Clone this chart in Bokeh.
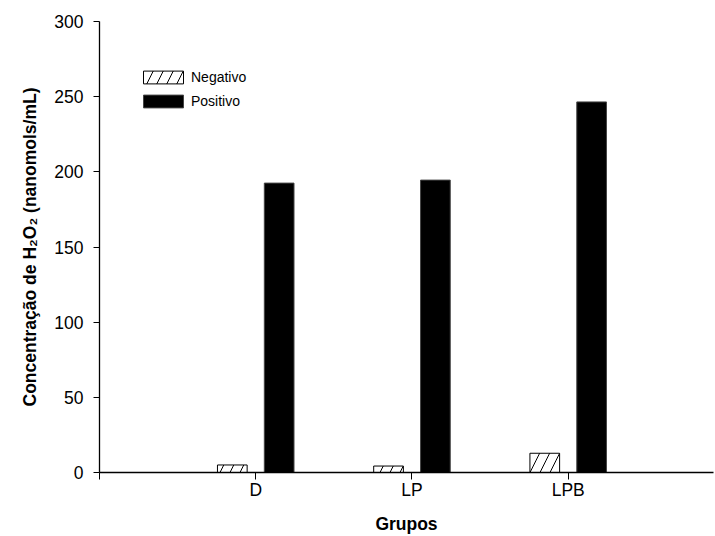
from bokeh.plotting import figure
from bokeh.models import Range1d, FixedTicker, Legend, LegendItem
from bokeh.embed import file_html
from bokeh.resources import INLINE

groups = ["D", "LP", "LPB"]
negativo = [5.0, 4.3, 12.8]
positivo = [192.5, 194.5, 246.5]
y_ticks = [0, 50, 100, 150, 200, 250, 300]
x_ticks = [0, 1, 2, 3]
x_tick_labels = ["", "D", "LP", "LPB"]

FONT = "Liberation Sans"
bar_w = 0.19
off = 0.15
pos_idx = [i + 1 for i in range(len(groups))]
x_neg = [x - off for x in pos_idx]
x_pos = [x + off for x in pos_idx]

p = figure(width=715, height=536, output_backend="svg", toolbar_location=None,
           x_range=Range1d(0, 3.93), y_range=Range1d(0, 300),
           min_border_left=99, min_border_right=2, min_border_top=21, min_border_bottom=63)
p.outline_line_color = None
p.grid.visible = False
p.background_fill_color = "white"

neg = p.vbar(x=x_neg, top=negativo, width=bar_w, fill_color="white", line_color="black",
             line_width=1, hatch_pattern="/", hatch_color="black", hatch_weight=1, hatch_scale=20)
pos = p.vbar(x=x_pos, top=positivo, width=bar_w, fill_color="black", line_color="#444444",
             line_width=1)

legend = Legend(items=[LegendItem(label="Negativo", renderers=[neg]),
                       LegendItem(label="Positivo", renderers=[pos])],
                location=(39, 363), glyph_width=50, glyph_height=16,
                label_text_font=FONT, label_text_font_size="14px", label_text_color="black",
                padding=0, margin=0, spacing=8, label_standoff=3,
                border_line_alpha=0, background_fill_alpha=0)
p.add_layout(legend)

for ax in (p.xaxis[0], p.yaxis[0]):
    ax.axis_line_color = "black"
    ax.axis_line_width = 1.3
    ax.major_tick_line_color = "black"
    ax.major_tick_in = 0
    ax.minor_tick_line_color = None
    ax.major_label_text_font = FONT
    ax.major_label_text_font_size = "17.5px"
    ax.major_label_text_color = "black"
    ax.axis_label_text_font = FONT
    ax.axis_label_text_font_size = "17.5px"
    ax.axis_label_text_font_style = "bold"
    ax.axis_label_text_color = "black"

p.yaxis.ticker = FixedTicker(ticks=y_ticks)
p.yaxis.major_tick_out = 6
p.yaxis.major_label_standoff = 10
p.yaxis.axis_label = "Concentração de H₂O₂ (nanomols/mL)"
p.yaxis.axis_label_standoff = 11

p.xaxis.ticker = FixedTicker(ticks=x_ticks)
p.xaxis.major_label_overrides = {t: lab for t, lab in zip(x_ticks, x_tick_labels)}
p.xaxis.major_tick_out = 7
p.xaxis.major_label_standoff = 0
p.xaxis.axis_label = "Grupos"
p.xaxis.axis_label_standoff = 11

open("out.html", "w").write(file_html(p, INLINE))
